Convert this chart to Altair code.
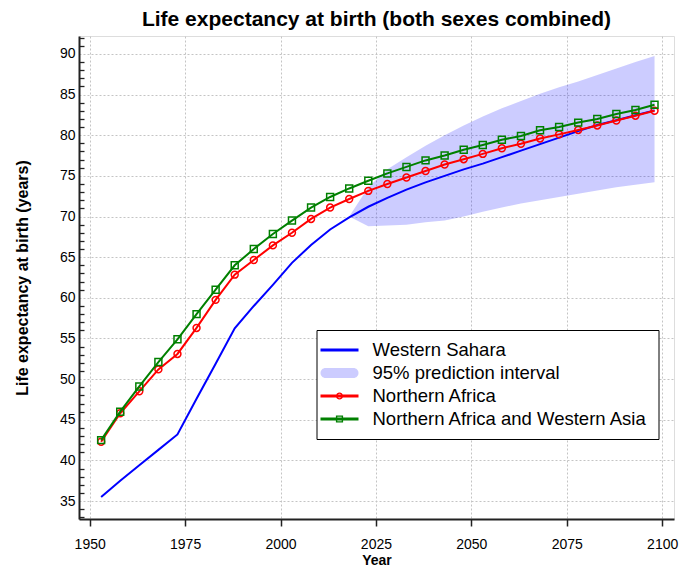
import altair as alt
import pandas as pd

FONT = "Liberation Sans"

# ---------------- data ----------------
years = [1953, 1958, 1963, 1968, 1973, 1978, 1983, 1988, 1993, 1998,
         2003, 2008, 2013, 2018, 2023, 2028, 2033, 2038, 2043, 2048,
         2053, 2058, 2063, 2068, 2073, 2078, 2083, 2088, 2093, 2098]

western_sahara = [35.5, 37.5, 39.4, 41.3, 43.2, 47.6, 51.9, 56.25, 59.0, 61.6,
                  64.3, 66.5, 68.4, 69.9, 71.2, 72.3, 73.3, 74.2, 75.0, 75.8,
                  76.5, 77.3, 78.1, 78.9, 79.7, 80.5, 81.25, 81.85, 82.45, 83.05]

northern_africa = [42.3, 45.8, 48.5, 51.2, 53.1, 56.3, 59.75, 62.85, 64.65, 66.45,
                   68.0, 69.7, 71.1, 72.15, 73.15, 74.0, 74.8, 75.6, 76.4, 77.05,
                   77.7, 78.4, 78.95, 79.6, 80.1, 80.65, 81.2, 81.8, 82.4, 83.0]

nafrica_wasia = [42.5, 46.0, 49.1, 52.1, 54.9, 58.0, 61.0, 64.0, 66.0, 67.85,
                 69.5, 71.1, 72.4, 73.45, 74.4, 75.3, 76.1, 76.9, 77.5, 78.2,
                 78.8, 79.45, 79.9, 80.6, 81.0, 81.55, 82.0, 82.6, 83.1, 83.75]

band_years = [2018, 2023, 2028, 2033, 2038, 2043, 2048, 2053, 2058,
              2063, 2068, 2073, 2078, 2083, 2088, 2093, 2098]
band_lower = [70.0, 68.8, 68.9, 69.0, 69.3, 69.5, 70.0, 70.6, 71.1,
              71.6, 72.0, 72.4, 72.8, 73.2, 73.6, 73.9, 74.2]
band_upper = [70.0, 73.6, 75.8, 77.3, 78.7, 80.0, 81.2, 82.3, 83.3,
              84.2, 85.1, 85.9, 86.6, 87.4, 88.2, 89.0, 89.75]

series_names = ["Western Sahara", "95% prediction interval",
                "Northern Africa", "Northern Africa and Western Asia"]
series_colors = ["#0000ff", "#ccccff", "#ff0000", "#008000"]

x_ticks = [1950, 1975, 2000, 2025, 2050, 2075, 2100]
y_ticks = [35, 40, 45, 50, 55, 60, 65, 70, 75, 80, 85, 90]
y_minor = [v for v in range(33, 93) if v % 5 != 0]

# legend symbol shapes (custom paths, unit radius = sqrt(size)/2)
line_path = "M-1.9,-0.15H1.9V0.15H-1.9Z"
band_path = ("M-1.4,-0.5H1.4A0.5,0.5 0 0 1 1.4,0.5H-1.4"
             "A0.5,0.5 0 0 1 -1.4,-0.5Z")
circle_path = (line_path +
               "M0.36,0A0.36,0.36 0 1 1 -0.36,0A0.36,0.36 0 1 1 0.36,0Z"
               "M0.22,0A0.22,0.22 0 1 0 -0.22,0A0.22,0.22 0 1 0 0.22,0Z")
square_path = (line_path +
               "M-0.36,-0.36H0.36V0.36H-0.36Z"
               "M-0.22,-0.22V0.22H0.22V-0.22Z")
series_shapes = [line_path, band_path, circle_path, square_path]

# ---------------- tables ----------------
lines_df = pd.DataFrame({
    "year": years * 3,
    "value": western_sahara + northern_africa + nafrica_wasia,
    "series": [series_names[0]] * len(years) + [series_names[2]] * len(years)
              + [series_names[3]] * len(years),
})
band_df = pd.DataFrame({"year": band_years, "lower": band_lower, "upper": band_upper})
legend_df = pd.DataFrame({"series": series_names})

# ---------------- scales / axes ----------------
W, H = 595, 483
xscale = alt.Scale(domain=[1947.2, 2103.1], nice=False, zero=False)
yscale = alt.Scale(domain=[32.8, 92.2], nice=False, zero=False)

x_axis = alt.Axis(values=x_ticks, format="d", tickSize=7, tickWidth=1.5,
                  tickColor="#222", labelPadding=11, labelFontSize=14,
                  labelColor="black", labelFont=FONT, labelFlush=False,
                  title="Year", titleFont=FONT, titleFontSize=14,
                  titleFontWeight="bold", titleColor="black", titlePadding=2,
                  grid=True, gridDash=[2, 2], gridColor="#c4c4c4",
                  domainColor="#222", domainWidth=2)
x_enc = alt.X("year:Q", scale=xscale, axis=x_axis)

y_axis_main = alt.Axis(orient="left", values=y_ticks, ticks=False,
                       labelPadding=4, labelFontSize=14, labelColor="black",
                       labelFont=FONT, title="Life expectancy at birth (years)",
                       titleFont=FONT, titleFontSize=16, titleFontWeight="bold",
                       titleColor="black", titlePadding=29,
                       grid=True, gridDash=[2, 2], gridColor="#c4c4c4",
                       domainColor="#222", domainWidth=2)
y_axis_minor = alt.Axis(orient="right", offset=-W, values=y_minor, labels=False,
                        domain=False, grid=False, ticks=True, tickSize=5,
                        tickWidth=1.3, tickColor="#222", title=None)

# ---------------- layers ----------------
band = alt.Chart(band_df).mark_area(color="#0000ff", opacity=0.2).encode(
    x=x_enc,
    y=alt.Y("lower:Q", scale=yscale, axis=y_axis_minor),
    y2="upper:Q",
)


def series_line(name, color, axis):
    return alt.Chart(lines_df).transform_filter(
        alt.datum.series == name
    ).mark_line(color=color, strokeWidth=2).encode(
        x=x_enc, y=alt.Y("value:Q", scale=yscale, axis=axis)
    )


def series_points(name, color, shape):
    return alt.Chart(lines_df).transform_filter(
        alt.datum.series == name
    ).mark_point(shape=shape, filled=False, color=color, size=48,
                 strokeWidth=1.5, opacity=1).encode(
        x=x_enc, y=alt.Y("value:Q", scale=yscale, axis=None)
    )


blue = series_line(series_names[0], "#0000ff", y_axis_main)
red_line = series_line(series_names[2], "#ff0000", None)
red_pts = series_points(series_names[2], "#ff0000", "circle")
green_line = series_line(series_names[3], "#008000", None)
green_pts = series_points(series_names[3], "#008000", "square")

legend_spec = alt.Legend(title=None, orient="none", legendX=237.5, legendY=294,
                         fillColor="white", strokeColor="black", padding=10,
                         labelFontSize=18.5, labelFont=FONT, labelColor="black",
                         labelLimit=500, symbolSize=400, symbolStrokeWidth=0,
                         symbolOpacity=1, symbolOffset=3, labelOffset=23,
                         rowPadding=3)

carrier = alt.Chart(legend_df).mark_point(filled=True, opacity=0).encode(
    color=alt.Color("series:N", scale=alt.Scale(domain=series_names, range=series_colors),
                    legend=legend_spec),
    shape=alt.Shape("series:N", scale=alt.Scale(domain=series_names, range=series_shapes),
                    legend=legend_spec),
)

chart = alt.layer(
    band, blue, red_line, red_pts, green_line, green_pts, carrier
).resolve_axis(
    y="independent"
).properties(
    width=W, height=H,
    title=alt.Title("Life expectancy at birth (both sexes combined)", fontSize=21,
                    font=FONT, fontWeight="bold", color="black", anchor="middle",
                    frame="group", offset=6),
    padding={"left": 6, "top": 1, "right": 5, "bottom": 0},
).configure_view(
    stroke="#222", strokeWidth=1.5
).configure(
    font=FONT
)

chart.save("out.html", embed_options={"renderer": "svg", "actions": False})
